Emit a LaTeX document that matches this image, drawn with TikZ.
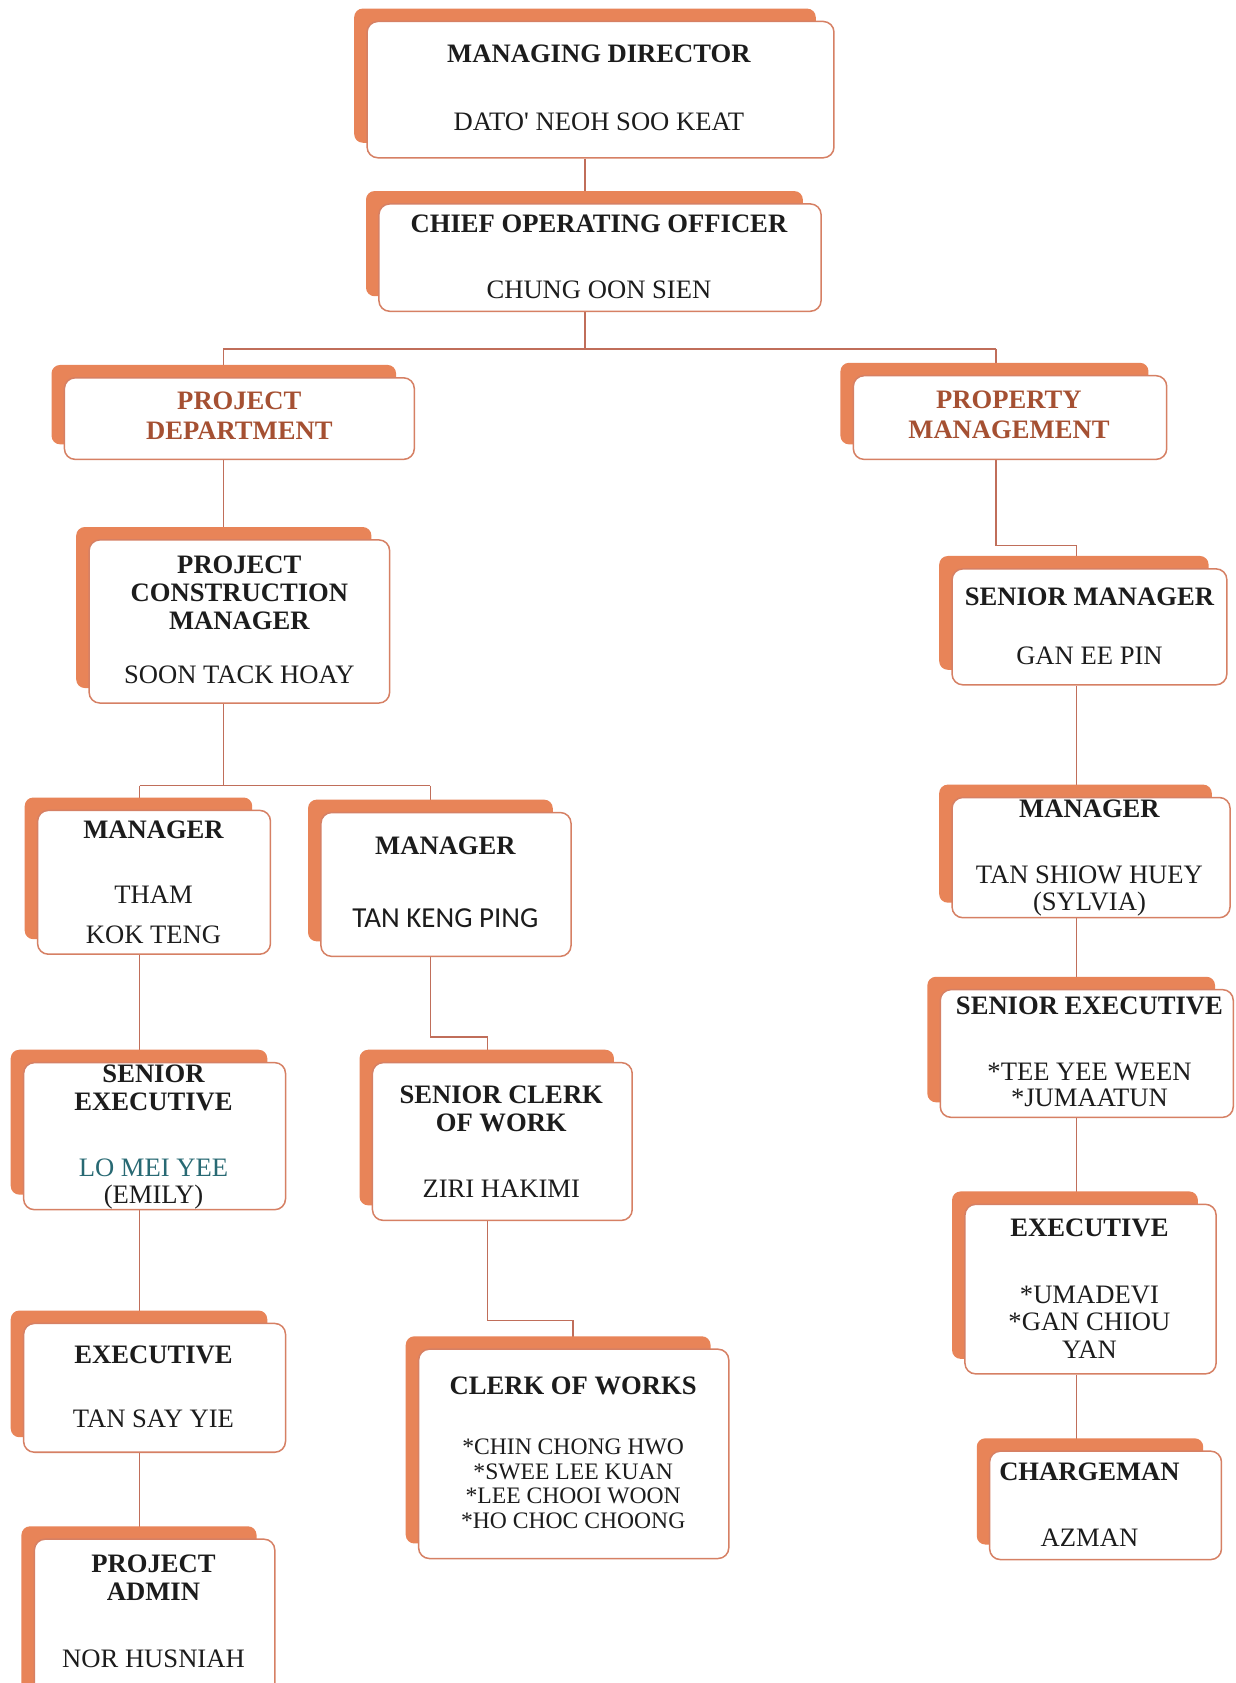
\documentclass[tikz,border=0pt]{standalone}
\usepackage{fontspec}
\setmainfont{Liberation Serif}
\newfontfamily\carlitofont{Carlito}
\usetikzlibrary{backgrounds}
\definecolor{backfill}{RGB}{232,132,88}
\definecolor{edgec}{RGB}{214,128,100}
\definecolor{connc}{RGB}{192,110,90}
\definecolor{txtc}{RGB}{28,28,28}
\definecolor{deptc}{RGB}{165,80,50}
\definecolor{tealc}{RGB}{40,105,115}
\tikzset{
 frontbox/.style={draw=edgec, line width=1.4pt, fill=white, rounded corners=10pt, inner sep=0pt, rectangle},
 backbox/.style={fill=backfill, rounded corners=8pt},
 conn/.style={draw=connc, line width=1.3pt},
 txt/.style={anchor=base, inner sep=0pt, text=txtc, font=\fontsize{24.8}{26}\selectfont},
 ttl/.style={txt, font=\fontsize{24.8}{26}\selectfont\bfseries},
 dept/.style={ttl, text=deptc},
 smalltxt/.style={txt, font=\fontsize{22}{23}\selectfont},
 sanstxt/.style={txt, font=\fontsize{27}{28}\selectfont\carlitofont},
}
\newcommand\orgbox[5]{%
  \fill[backbox] ({#2-12},{#3-12}) rectangle ({#4-17},{#5-14});
  \node[frontbox, minimum width={(#4-#2)*1pt}, minimum height={(#5-#3)*1pt}] (#1) at ({(#2+#4)/2},{(#3+#5)/2}) {};
}
\newcommand\orgtxt[5]{\node[#4] (#1) at (#2,{#3+8.2}) {#5};}
\begin{document}
\begin{tikzpicture}[x=1pt,y=-1pt]
\useasboundingbox (0,0) rectangle (1151,1568);
\clip (0,0) rectangle (1151,1568);
% boxes
\orgbox{md}{342}{20}{777}{147}
\orgbox{coo}{353}{190}{765}{290}
\orgbox{pd}{60}{352}{386}{428}
\orgbox{pm}{795}{350}{1087}{428}
\orgbox{pcm}{83}{503}{363}{655}
\orgbox{ma}{35}{755}{252}{889}
\orgbox{mb}{299}{757}{532}{891}
\orgbox{sea}{22}{990}{266}{1127}
\orgbox{scw}{347}{990}{589}{1137}
\orgbox{exa}{22}{1233}{266}{1353}
\orgbox{pa}{32}{1434}{256}{1600}
\orgbox{cow}{390}{1257}{679}{1452}
\orgbox{sm}{887}{530}{1143}{638}
\orgbox{mc}{887}{743}{1146}{855}
\orgbox{seb}{876}{922}{1149}{1041}
\orgbox{exb}{899}{1122}{1133}{1280}
\orgbox{cm}{922}{1352}{1138}{1453}
% texts
\orgtxt{md1}{558}{50}{ttl}{MANAGING DIRECTOR}
\orgtxt{md2}{558}{113}{txt}{DATO\textquotesingle{} NEOH SOO KEAT}
\orgtxt{coo1}{558}{208}{ttl}{CHIEF OPERATING OFFICER}
\orgtxt{coo2}{558}{270}{txt}{CHUNG OON SIEN}
\orgtxt{pd1}{223}{373}{dept}{PROJECT}
\orgtxt{pd2}{223}{401}{dept}{DEPARTMENT}
\orgtxt{pm1}{940}{372}{dept}{PROPERTY}
\orgtxt{pm2}{940}{400}{dept}{MANAGEMENT}
\orgtxt{pcm1}{223}{526}{ttl}{PROJECT}
\orgtxt{pcm2}{223}{552}{ttl}{CONSTRUCTION}
\orgtxt{pcm3}{223}{578}{ttl}{MANAGER}
\orgtxt{pcm4}{223}{629}{txt}{SOON TACK HOAY}
\orgtxt{ma1}{143}{773}{ttl}{MANAGER}
\orgtxt{ma2}{143}{834}{txt}{THAM}
\orgtxt{ma3}{143}{871}{txt}{KOK TENG}
\orgtxt{mb1}{415}{788}{ttl}{MANAGER}
\orgtxt{mb2}{415}{856}{sanstxt}{TAN KENG PING}
\orgtxt{sea1}{143}{1000}{ttl}{SENIOR}
\orgtxt{sea2}{143}{1026}{ttl}{EXECUTIVE}
\orgtxt{sea3}{143}{1088}{txt,text=tealc}{LO MEI YEE}
\orgtxt{sea4}{143}{1113}{txt}{(EMILY)}
\orgtxt{scw1}{467}{1020}{ttl}{SENIOR CLERK}
\orgtxt{scw2}{467}{1046}{ttl}{OF WORK}
\orgtxt{scw3}{467}{1107}{txt}{ZIRI HAKIMI}
\orgtxt{exa1}{143}{1262}{ttl}{EXECUTIVE}
\orgtxt{exa2}{143}{1322}{txt}{TAN SAY YIE}
\orgtxt{pa1}{143}{1457}{ttl}{PROJECT}
\orgtxt{pa2}{143}{1483}{ttl}{ADMIN}
\orgtxt{pa3}{143}{1545}{txt}{NOR HUSNIAH}
\orgtxt{cow1}{534}{1291}{ttl}{CLERK OF WORKS}
\orgtxt{cow2}{534}{1347}{smalltxt}{*CHIN CHONG HWO}
\orgtxt{cow3}{534}{1370}{smalltxt}{*SWEE LEE KUAN}
\orgtxt{cow4}{534}{1393}{smalltxt}{*LEE CHOOI WOON}
\orgtxt{cow5}{534}{1416}{smalltxt}{*HO CHOC CHOONG}
\orgtxt{sm1}{1015}{556}{ttl}{SENIOR MANAGER}
\orgtxt{sm2}{1015}{611}{txt}{GAN EE PIN}
\orgtxt{mc1}{1015}{753}{ttl}{MANAGER}
\orgtxt{mc2}{1015}{815}{txt}{TAN SHIOW HUEY}
\orgtxt{mc3}{1015}{840}{txt}{(SYLVIA)}
\orgtxt{seb1}{1015}{937}{ttl}{SENIOR EXECUTIVE}
\orgtxt{seb2}{1015}{998}{txt}{*TEE YEE WEEN}
\orgtxt{seb3}{1015}{1023}{txt}{*JUMAATUN}
\orgtxt{exb1}{1015}{1144}{ttl}{EXECUTIVE}
\orgtxt{exb2}{1015}{1206}{txt}{*UMADEVI}
\orgtxt{exb3}{1015}{1231}{txt}{*GAN CHIOU}
\orgtxt{exb4}{1015}{1257}{txt}{YAN}
\orgtxt{cm1}{1015}{1371}{ttl}{CHARGEMAN}
\orgtxt{cm2}{1015}{1433}{txt}{AZMAN}
% junctions
\coordinate (jA) at (545,325);
\coordinate (jAl) at (208,325);
\coordinate (jAr) at (928,325);
\coordinate (jB) at (208,732);
\coordinate (jBl) at (130,732);
\coordinate (jBr) at (401,732);
\coordinate (jC1) at (401,966);
\coordinate (jC2) at (454,966);
\coordinate (jD1) at (454,1230);
\coordinate (jD2) at (534,1230);
\coordinate (jE1) at (928,508);
\coordinate (jE2) at (1003,508);
\begin{pgfonlayer}{background}
\fill[white] (0,0) rectangle (1151,1568);
\draw[conn] (md.south -| jA) -- (coo.north -| jA);
\draw[conn] (coo.south -| jA) -- (jA);
\draw[conn] (jAl) -- (jAr);
\draw[conn] (jAl) -- (pd.north -| jAl);
\draw[conn] (jAr) -- (pm.north -| jAr);
\draw[conn] (pd.south -| jAl) -- (pcm.north -| jAl);
\draw[conn] (pcm.south -| jB) -- (jB);
\draw[conn] (jBl) -- (jBr);
\draw[conn] (jBl) -- (ma.north -| jBl);
\draw[conn] (jBr) -- (mb.north -| jBr);
\draw[conn] (ma.south -| jBl) -- (sea.north -| jBl);
\draw[conn] (sea.south -| jBl) -- (exa.north -| jBl);
\draw[conn] (exa.south -| jBl) -- (pa.north -| jBl);
\draw[conn] (mb.south -| jC1) -- (jC1) -- (jC2) -- (scw.north -| jC2);
\draw[conn] (scw.south -| jD1) -- (jD1) -- (jD2) -- (cow.north -| jD2);
\draw[conn] (pm.south -| jE1) -- (jE1) -- (jE2) -- (sm.north -| jE2);
\draw[conn] (sm.south -| jE2) -- (mc.north -| jE2);
\draw[conn] (mc.south -| jE2) -- (seb.north -| jE2);
\draw[conn] (seb.south -| jE2) -- (exb.north -| jE2);
\draw[conn] (exb.south -| jE2) -- (cm.north -| jE2);
\end{pgfonlayer}
\end{tikzpicture}
\end{document}
